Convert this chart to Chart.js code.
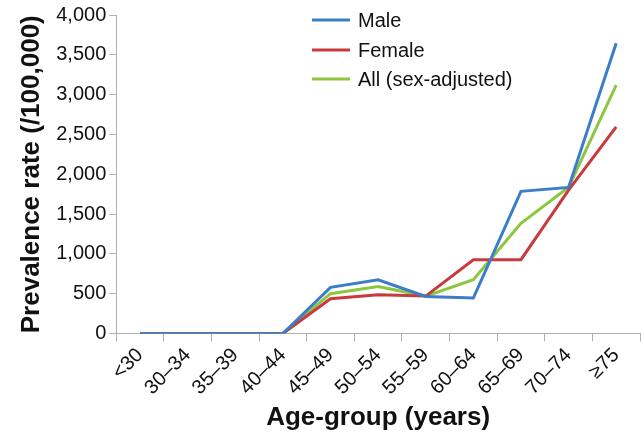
<!DOCTYPE html>
<html>
<head>
<meta charset="utf-8">
<script src="https://cdn.jsdelivr.net/npm/chart.js@4/dist/chart.umd.min.js"></script>
<style>
html,body{margin:0;padding:0;background:#fff;}
#wrap{width:641px;height:441px;}
</style>
</head>
<body>
<div id="wrap"><canvas id="c" width="641" height="441"></canvas></div>
<script>
const categories = ["<30","30\u201334","35\u201339","40\u201344","45\u201349","50\u201354","55\u201359","60\u201364","65\u201369","70\u201374","\u226575"];
const maleValues   = [0,0,0,0,580,675,465,445,1785,1835,3645];
const femaleValues = [0,0,0,0,436,487,470,927,927,1800,2595];
const allValues    = [0,0,0,0,500,591,470,675,1384,1836,3119];
const seriesNames  = ["Male","Female","All (sex-adjusted)"];
const yTicks = [0,500,1000,1500,2000,2500,3000,3500,4000];

const colors = ["#3b7dc9","#c93a3c","#8dc63f"];
const FONT = "'Liberation Sans', Arial, sans-serif";

const legendPlugin = {
  id: 'insideLegend',
  afterDraw(chart) {
    const ctx = chart.ctx;
    ctx.save();
    const x0 = 312, x1 = 350, tx = 358;
    const ys = [20, 50, 79];
    chart.data.datasets.forEach((ds, i) => {
      ctx.strokeStyle = ds.borderColor;
      ctx.lineWidth = 3;
      ctx.beginPath();
      ctx.moveTo(x0, ys[i]);
      ctx.lineTo(x1, ys[i]);
      ctx.stroke();
      ctx.fillStyle = '#111';
      ctx.font = "20px " + FONT;
      ctx.textBaseline = 'middle';
      ctx.textAlign = 'left';
      ctx.fillText(ds.label, tx, ys[i] + 1);
    });
    ctx.restore();
  }
};

new Chart(document.getElementById('c'), {
  type: 'line',
  data: {
    labels: categories,
    datasets: [
      {label: seriesNames[0], data: maleValues, borderColor: colors[0], backgroundColor: colors[0]},
      {label: seriesNames[1], data: femaleValues, borderColor: colors[1], backgroundColor: colors[1]},
      {label: seriesNames[2], data: allValues, borderColor: colors[2], backgroundColor: colors[2]}
    ].map(d => Object.assign(d, {borderWidth: 3, pointRadius: 0, tension: 0, fill: false}))
  },
  options: {
    responsive: false,
    animation: false,
    layout: {padding: {top: 6, right: 1, left: 16, bottom: 8}},
    plugins: {legend: {display: false}, tooltip: {enabled: false}},
    scales: {
      x: {
        type: 'category',
        offset: true,
        grid: {offset: true, drawOnChartArea: false, drawTicks: true, tickLength: 8, color: '#b0b0b0'},
        border: {color: '#b0b0b0', width: 1},
        ticks: {minRotation: 45, maxRotation: 45, color: '#111', font: {family: FONT, size: 20}, padding: 2, autoSkip: false},
        title: {display: true, text: 'Age-group (years)', color: '#111', font: {family: FONT, size: 26, weight: 'bold'}, padding: {top: 0, bottom: 0}}
      },
      y: {
        min: 0, max: 4000,
        afterBuildTicks(axis) { axis.ticks = yTicks.map(v => ({value: v})); },
        grid: {drawOnChartArea: false, drawTicks: true, tickLength: 7, color: '#b0b0b0'},
        border: {color: '#b0b0b0', width: 1},
        ticks: {color: '#111', font: {family: FONT, size: 20}, padding: 3,
          callback: v => v.toLocaleString('en-US')},
        title: {display: true, text: 'Prevalence rate (/100,000)', color: '#111', font: {family: FONT, size: 26, weight: 'bold'}, padding: {top: 0, bottom: 6}}
      }
    }
  },
  plugins: [legendPlugin]
});
</script>
</body>
</html>
